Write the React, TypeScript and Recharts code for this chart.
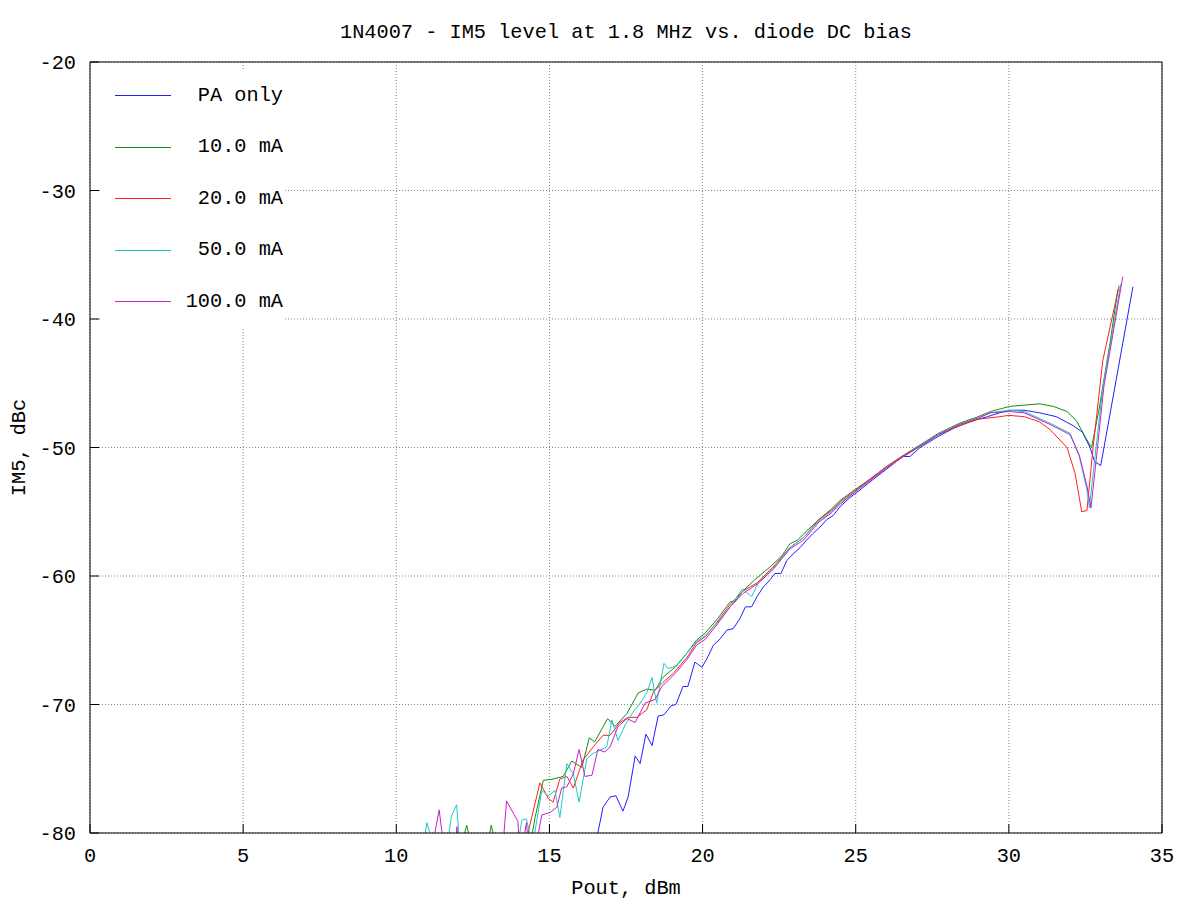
import { LineChart, Line, XAxis, YAxis, CartesianGrid, Legend } from 'recharts';

// [Pout dBm, IM5 dBc]; values under -80 just run off the bottom edge
type Pt = [number, number];

const xTicks = [0, 5, 10, 15, 20, 25, 30, 35];
const yTicks = [-80, -70, -60, -50, -40, -30, -20];

const seriesNames = ['PA only', '10.0 mA', '20.0 mA', '50.0 mA', '100.0 mA'];
const seriesColors = ['#2020ff', '#109010', '#ff2020', '#20c8c8', '#c820c8'];

const paOnly: Pt[] = [
    [16.3, -82], [16.58, -80.0], [16.75, -78.0], [16.98, -77.2], [17.17, -77.1], [17.4, -78.3],
    [17.57, -77.2], [17.8, -74.0], [17.96, -74.6], [18.15, -72.3], [18.35, -73.2], [18.55, -70.9],
    [18.74, -70.8], [18.97, -70.1], [19.13, -70.0], [19.36, -68.6], [19.52, -68.6], [19.75, -66.7],
    [19.98, -67.1], [20.15, -66.4], [20.35, -65.4], [20.57, -64.9], [20.8, -64.2], [21.0, -64.1],
    [21.2, -63.4], [21.4, -62.4], [21.6, -62.4], [21.78, -61.6], [21.97, -60.9], [22.2, -60.3],
    [22.36, -59.8], [22.56, -59.8], [22.75, -58.8], [22.95, -58.3], [23.18, -57.8], [23.4, -57.2],
    [23.6, -56.7], [23.83, -56.2], [24.06, -55.6], [24.26, -55.3], [24.49, -54.6], [24.81, -53.9],
    [25.14, -53.3], [25.56, -52.5], [26.0, -51.7], [26.54, -50.7], [26.77, -50.7], [27.1, -50.0],
    [27.65, -49.2], [28.2, -48.5], [28.7, -48.0], [29.3, -47.6], [29.7, -47.3], [30.03, -47.1],
    [30.5, -47.1], [31.0, -47.3], [31.55, -47.6], [32.1, -48.3], [32.4, -48.8], [32.65, -50.0],
    [32.8, -51.1], [33.0, -51.4], [34.05, -37.5],
];

const bias10: Pt[] = [
    [12.0, -82], [12.3, -79.4], [12.45, -81], [12.9, -82], [13.1, -79.4], [13.25, -81],
    [14.3, -82], [14.53, -78.8], [14.8, -75.9], [15.12, -75.8], [15.45, -75.6], [15.73, -74.4],
    [16.06, -74.9], [16.3, -72.6], [16.48, -72.9], [16.9, -71.1], [17.14, -71.7], [17.53, -70.7],
    [17.9, -69.1], [18.18, -68.8], [18.45, -68.9], [18.7, -67.9], [19.1, -67.1], [19.49, -66.0],
    [19.8, -65.0], [20.1, -64.4], [20.5, -63.3], [20.9, -62.0], [21.05, -62.0], [21.3, -61.2],
    [21.7, -60.3], [22.2, -59.3], [22.6, -58.4], [22.85, -57.5], [23.1, -57.2], [23.4, -56.5],
    [23.8, -55.6], [24.2, -54.8], [24.5, -54.1], [24.9, -53.4], [25.5, -52.4], [26.0, -51.5],
    [26.5, -50.7], [27.1, -49.8], [27.7, -48.9], [28.4, -48.1], [29.0, -47.6], [29.4, -47.2],
    [30.03, -46.8], [31.0, -46.6], [31.45, -46.8], [31.9, -47.2], [32.2, -47.9], [32.5, -49.2],
    [32.7, -50.0], [32.94, -47.1], [33.3, -41.9], [33.56, -37.7],
];

const bias20: Pt[] = [
    [14.1, -82], [14.3, -80.0], [14.69, -76.1], [14.96, -77.3], [15.12, -77.6], [15.34, -75.8],
    [15.57, -75.6], [15.78, -76.5], [16.1, -74.3], [16.43, -73.3], [16.75, -72.4], [16.98, -72.4],
    [17.3, -71.4], [17.57, -71.0], [17.86, -71.0], [18.18, -70.4], [18.4, -69.0], [18.7, -68.3],
    [19.03, -67.6], [19.5, -66.3], [19.8, -65.2], [20.1, -64.7], [20.5, -63.5], [20.9, -62.2],
    [21.3, -61.2], [21.8, -60.5], [22.3, -59.3], [22.85, -57.8], [23.3, -57.0], [23.8, -55.6],
    [24.2, -54.9], [24.5, -54.2], [24.9, -53.5], [25.5, -52.4], [26.0, -51.5], [26.5, -50.7],
    [27.1, -49.9], [27.7, -49.0], [28.4, -48.3], [29.0, -47.8], [29.7, -47.6], [30.0, -47.5],
    [30.5, -47.6], [31.0, -48.0], [31.34, -48.6], [31.9, -50.0], [32.16, -52.0], [32.38, -55.0],
    [32.55, -54.9], [32.75, -50.0], [33.07, -43.2], [33.6, -37.4],
];

const bias50: Pt[] = [
    [10.8, -82], [11.0, -79.2], [11.15, -80.5], [11.6, -82], [11.8, -78.7], [11.97, -77.8],
    [12.1, -82], [13.9, -82], [14.1, -79.0], [14.25, -78.9], [14.45, -81], [14.75, -76.7],
    [14.96, -77.1], [15.18, -76.7], [15.34, -78.8], [15.57, -74.6], [15.78, -75.4], [15.97, -77.6],
    [16.22, -74.2], [16.43, -73.8], [16.87, -73.3], [17.04, -71.2], [17.24, -72.8], [17.47, -71.6],
    [17.73, -70.6], [17.96, -69.9], [18.18, -69.1], [18.35, -67.9], [18.5, -69.9], [18.74, -66.8],
    [18.87, -67.2], [19.16, -67.0], [19.49, -66.0], [19.8, -65.1], [20.1, -64.6], [20.5, -63.6],
    [20.9, -62.4], [21.3, -61.0], [21.6, -61.6], [21.8, -60.6], [22.3, -59.4], [22.85, -57.8],
    [23.3, -57.0], [23.8, -55.7], [24.2, -55.0], [24.5, -54.3], [24.9, -53.6], [25.5, -52.5],
    [26.0, -51.6], [26.5, -50.8], [27.1, -49.9], [27.7, -49.0], [28.4, -48.2], [29.0, -47.7],
    [29.4, -47.3], [30.0, -47.1], [30.5, -47.2], [31.34, -48.1], [32.0, -48.9], [32.3, -50.7],
    [32.55, -53.3], [32.63, -54.7], [32.8, -51.0], [33.07, -45.3], [33.65, -37.3],
];

const bias100: Pt[] = [
    [11.1, -82], [11.4, -78.2], [11.6, -82], [11.9, -82], [11.98, -79.5], [12.05, -82],
    [13.45, -82], [13.6, -77.5], [13.97, -79.1], [14.05, -82], [14.25, -79.2], [14.35, -82],
    [14.6, -80.5], [14.75, -78.6], [15.02, -78.4], [15.24, -78.0], [15.4, -76.5], [15.57, -76.4],
    [15.78, -75.4], [15.97, -73.5], [16.16, -75.6], [16.39, -75.5], [16.58, -73.5], [16.81, -73.7],
    [16.98, -73.3], [17.24, -71.7], [17.53, -71.1], [17.8, -71.4], [18.12, -69.9], [18.45, -69.6],
    [18.67, -68.6], [19.1, -67.6], [19.49, -66.5], [19.8, -65.4], [20.1, -64.9], [20.5, -63.7],
    [20.9, -62.4], [21.3, -61.4], [21.8, -60.6], [22.3, -59.5], [22.85, -57.9], [23.3, -57.2],
    [23.8, -55.8], [24.2, -55.1], [24.5, -54.4], [24.9, -53.6], [25.5, -52.5], [26.0, -51.6],
    [26.5, -50.8], [27.1, -49.9], [27.7, -49.0], [28.4, -48.2], [29.0, -47.7], [29.4, -47.3],
    [30.0, -47.2], [30.5, -47.3], [31.34, -48.2], [32.0, -49.0], [32.3, -50.6], [32.55, -53.0],
    [32.68, -54.7], [32.85, -51.0], [33.1, -45.3], [33.72, -36.7],
];

const allSeries = [paOnly, bias10, bias20, bias50, bias100];

const FONT = "'Liberation Mono', 'DejaVu Sans Mono', monospace";
const tickStyle = { fontFamily: FONT, fontSize: 20.3, fill: '#000' };

const toRows = (pts: Pt[]) => pts.map(([pout, im5]) => ({ pout, im5 }));

// gnuplot-style key: keep plot order, not alphabetical
const renderLegend = () => (
    <div style={{ background: '#fff', width: 183, height: 257, fontFamily: FONT, fontSize: 20.3, color: '#000' }}>
        {seriesNames.map((name, i) => (
            <div key={name} style={{ height: 51.5, display: 'flex', alignItems: 'center' }}>
                <div style={{ marginLeft: 15, width: 56, borderTop: `1px solid ${seriesColors[i]}` }} />
                <div style={{ flex: 1, textAlign: 'right', whiteSpace: 'pre', lineHeight: '20px' }}>{name}</div>
            </div>
        ))}
    </div>
);

const App = () => {
    return (
        <div style={{ position: 'absolute', left: 0, top: 0, width: 1200, height: 900, background: '#fff' }}>
            <div
                style={{
                    position: 'absolute',
                    left: 626,
                    top: 21,
                    transform: 'translateX(-50%)',
                    whiteSpace: 'pre',
                    fontFamily: FONT,
                    fontSize: 20.3,
                    lineHeight: '24px',
                    color: '#000',
                }}
            >
                1N4007 - IM5 level at 1.8 MHz vs. diode DC bias
            </div>
            <LineChart width={1200} height={900} margin={{ top: 61, right: 37, bottom: 0, left: 0 }}>
                <CartesianGrid stroke="#888" strokeDasharray="1 2" />
                <XAxis
                    dataKey="pout"
                    type="number"
                    domain={[0, 35]}
                    ticks={xTicks}
                    allowDataOverflow
                    height={67}
                    stroke="#000"
                    tickSize={-9}
                    tickMargin={24}
                    tick={tickStyle}
                    label={{ value: 'Pout, dBm', position: 'center', dy: 20, style: tickStyle }}
                />
                <XAxis
                    xAxisId="top"
                    orientation="top"
                    type="number"
                    domain={[0, 35]}
                    ticks={xTicks}
                    allowDataOverflow
                    height={1}
                    stroke="#000"
                    tickSize={-9}
                    tick={false}
                />
                <YAxis
                    type="number"
                    domain={[-80, -20]}
                    ticks={yTicks}
                    allowDataOverflow
                    width={90}
                    stroke="#000"
                    tickSize={-9}
                    tickMargin={23}
                    tick={tickStyle}
                    label={{ value: 'IM5, dBc', angle: -90, position: 'center', dx: -27, style: tickStyle }}
                />
                <YAxis
                    yAxisId="right"
                    orientation="right"
                    type="number"
                    domain={[-80, -20]}
                    ticks={yTicks}
                    allowDataOverflow
                    width={1}
                    stroke="#000"
                    tickSize={-9}
                    tick={false}
                />
                <Legend
                    layout="vertical"
                    align="center"
                    verticalAlign="middle"
                    content={renderLegend}
                    wrapperStyle={{ left: 100, top: 70, width: 183, height: 257 }}
                />
                {allSeries.map((pts, i) => (
                    <Line
                        key={seriesNames[i]}
                        data={toRows(pts)}
                        dataKey="im5"
                        name={seriesNames[i]}
                        type="linear"
                        stroke={seriesColors[i]}
                        strokeWidth={1}
                        dot={false}
                        isAnimationActive={false}
                    />
                ))}
            </LineChart>
        </div>
    );
};

export default App;
